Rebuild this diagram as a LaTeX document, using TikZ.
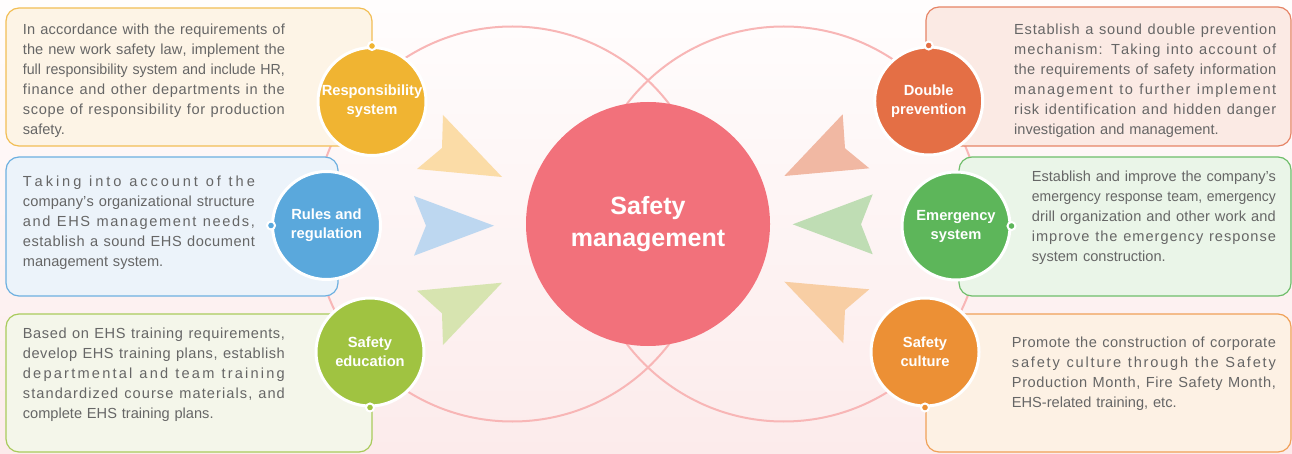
\documentclass[tikz,border=0pt]{standalone}
\usepackage{fontspec}
\usepackage{graphicx}
\setmainfont{Liberation Sans}
\definecolor{bgtop}{HTML}{FFFDFD}
\definecolor{bgbot}{HTML}{FCEBEB}
\definecolor{ring}{HTML}{F8B6B6}
\definecolor{cmain}{HTML}{F2717B}
\definecolor{txt}{HTML}{666666}
\definecolor{bd1}{HTML}{F2BE55}\definecolor{bf1}{HTML}{FDF4E6}
\definecolor{bd2}{HTML}{6DB0E0}\definecolor{bf2}{HTML}{ECF3FA}
\definecolor{bd3}{HTML}{A9CB5C}\definecolor{bf3}{HTML}{F4F6EA}
\definecolor{bd4}{HTML}{E68466}\definecolor{bf4}{HTML}{FBEAE4}
\definecolor{bd5}{HTML}{6FBE6B}\definecolor{bf5}{HTML}{EAF5E8}
\definecolor{bd6}{HTML}{F0A158}\definecolor{bf6}{HTML}{FDF1E4}
\definecolor{c1}{HTML}{F0B432}\definecolor{c2}{HTML}{5AA8DC}
\definecolor{c3}{HTML}{A0C341}\definecolor{c4}{HTML}{E46F45}
\definecolor{c5}{HTML}{5DB65A}\definecolor{c6}{HTML}{EC9035}
\definecolor{a1}{HTML}{FBDCA7}\definecolor{a2}{HTML}{BDD7F0}
\definecolor{a3}{HTML}{D7E4B0}\definecolor{a4}{HTML}{F1B8A3}
\definecolor{a5}{HTML}{BFDDB4}\definecolor{a6}{HTML}{F8CEA4}

\ExplSyntaxOn
\box_new:N \l_sp_box
\tl_new:N \l_sp_tl
\seq_new:N \l_sp_seq
\cs_new_protected:Npn \sp_line:n #1
  {
    \hbox_set:Nn \l_sp_box {#1}
    \dim_compare:nNnTF { \box_wd:N \l_sp_box } > { \linewidth }
      { \noindent \resizebox{\linewidth}{\height}{#1} \par }
      {
        \tl_clear:N \l_sp_tl
        \seq_set_split:Nnn \l_sp_seq { ~ } {#1}
        \seq_map_inline:Nn \l_sp_seq
          {
            \tl_map_inline:nn {##1} { \tl_put_right:Nn \l_sp_tl { ####1 \hfil } }
            \tl_put_right:Nn \l_sp_tl { \c_space_tl }
          }
        \noindent \hbox_to_wd:nn { \linewidth } { \l_sp_tl \unskip \unskip }
        \par
      }
  }
\NewDocumentCommand \jl { m } { \sp_line:n {#1} }
\ExplSyntaxOff

\tikzset{
  infobox/.style={draw=#1, line width=1.2pt, rounded corners=13pt, inner sep=0pt},
  bodytext/.style={anchor=base west, inner sep=0pt, text=txt,
    font=\fontsize{14.6}{20}\selectfont},
  topic/.style={circle, fill=#1, draw=white, line width=3pt, minimum size=108pt,
    inner sep=0pt, text=white, align=center,
    font=\bfseries\fontsize{14.7}{19}\selectfont},
  hubnode/.style={circle, fill=cmain, minimum size=244pt, inner sep=0pt,
    text=white, align=center, font=\bfseries\fontsize{25}{32}\selectfont},
  pin/.style={circle, fill=#1, draw=white, line width=2pt, minimum size=8pt, inner sep=0pt},
  ringline/.style={draw=ring, line width=2pt}
}

\begin{document}
\begin{tikzpicture}[x=1pt,y=-1pt]
\useasboundingbox (0,0) rectangle (1292,454);
\shade[top color=bgtop, bottom color=bgbot] (0,0) rectangle (1292,454);

% rings
\coordinate (rl) at (512.3,224);
\coordinate (rr) at (783.7,224);
\draw[ringline] (rl) circle[radius=197.5];
\draw[ringline] (rr) circle[radius=197.5];

% boxes
\node[infobox=bd1, fill=bf1, minimum width=366pt, minimum height=138pt] (b1) at (189,77) {};
\node[infobox=bd2, fill=bf2, minimum width=332pt, minimum height=139pt] (b2) at (172,226.5) {};
\node[infobox=bd3, fill=bf3, minimum width=366pt, minimum height=138pt] (b3) at (189,383) {};
\node[infobox=bd4, fill=bf4, minimum width=365pt, minimum height=139pt] (b4) at (1108.5,76.5) {};
\node[infobox=bd5, fill=bf5, minimum width=332pt, minimum height=139pt] (b5) at (1125,226.5) {};
\node[infobox=bd6, fill=bf6, minimum width=365pt, minimum height=138pt] (b6) at (1108.5,383) {};

% texts
\node[bodytext, text width=262pt] (t1) at (22.7,35) {%
\jl{In accordance with the requirements of}
\jl{the new work safety law, implement the}
\jl{full responsibility system and include HR,}
\jl{finance and other departments in the}
\jl{scope of responsibility for production}
\noindent safety.};
\node[bodytext, text width=232pt] (t2) at (22.7,187) {%
\jl{Taking into account of the}
\jl{company’s organizational structure}
\jl{and EHS management needs,}
\jl{establish a sound EHS document}
\noindent management system.};
\node[bodytext, text width=262pt] (t3) at (22.7,338) {%
\jl{Based on EHS training requirements,}
\jl{develop EHS training plans, establish}
\jl{departmental and team training}
\jl{standardized course materials, and}
\noindent complete EHS training plans.};
\node[bodytext, text width=262pt] (t4) at (1014,35) {%
\jl{Establish a sound double prevention}
\jl{mechanism: Taking into account of}
\jl{the requirements of safety information}
\jl{management to further implement}
\jl{risk identification and hidden danger}
\noindent investigation and management.};
\node[bodytext, text width=244pt] (t5) at (1031.7,182) {%
\jl{Establish and improve the company’s}
\jl{emergency response team, emergency}
\jl{drill organization and other work and}
\jl{improve the emergency response}
\noindent system construction.};
\node[bodytext, text width=264pt] (t6) at (1011.7,347) {%
\jl{Promote the construction of corporate}
\jl{safety culture through the Safety}
\jl{Production Month, Fire Safety Month,}
\noindent EHS-related training, etc.};

% darts
\fill[a1] (502,177) -- (443,115) -- (442,148) -- (417,169) -- cycle;
\fill[a2] (494,225.7) -- (414,196) -- (426,225.7) -- (414,255.7) -- cycle;
\fill[a3] (502,282.7) -- (417,290.7) -- (442,313.3) -- (443,345) -- cycle;
\fill[a4] (784.3,176) -- (842.7,114.3) -- (845,148.3) -- (869.3,168.3) -- cycle;
\fill[a5] (792.7,224.3) -- (872.7,194.3) -- (861,224.3) -- (872.7,254.3) -- cycle;
\fill[a6] (784.3,281.7) -- (869.3,289.3) -- (845,310) -- (843.3,343.3) -- cycle;

% topic circles
\node[topic=c1] (c1n) at (372,101.5) {Responsibility\\system};
\node[topic=c2] (c2n) at (326.5,225.5) {Rules and\\regulation};
\node[topic=c3] (c3n) at (370,352) {Safety\\education};
\node[topic=c4] (c4n) at (928.7,101) {Double\\prevention};
\node[topic=c5] (c5n) at (956,226) {Emergency\\system};
\node[topic=c6] (c6n) at (925,352) {Safety\\culture};

% hub
\node[hubnode] (hub) at (648,224) {Safety\\management};

% pins
\node[pin=c1] (p1) at (c1n.north) {};
\node[pin=c2] (p2) at (c2n.west) {};
\node[pin=c3] (p3) at (c3n.south) {};
\node[pin=c4] (p4) at (c4n.north) {};
\node[pin=c5] (p5) at (c5n.east) {};
\node[pin=c6] (p6) at (c6n.south) {};
\end{tikzpicture}
\end{document}
